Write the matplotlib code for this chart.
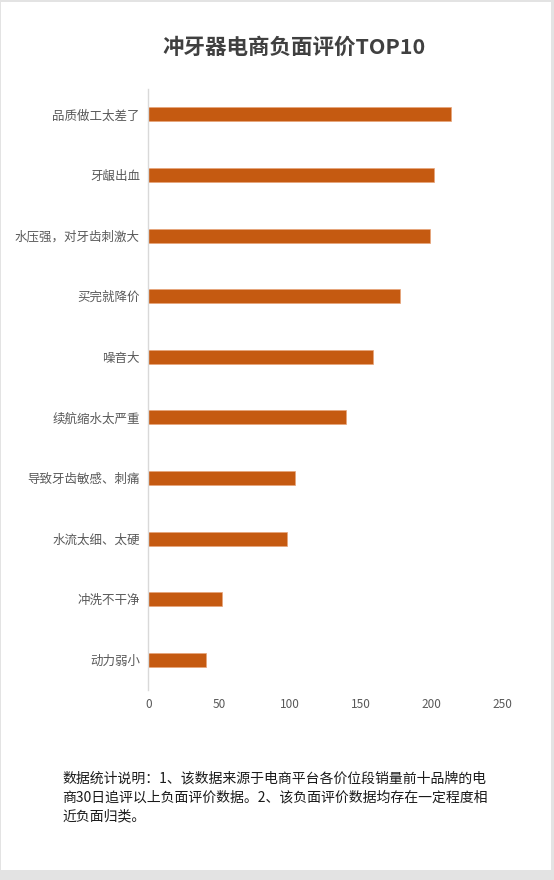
import matplotlib
matplotlib.use('Agg')
from matplotlib import pyplot as plt
from matplotlib.patches import Rectangle

plt.rcParams['font.family'] = ['Noto Sans CJK SC', 'DejaVu Sans']

categories = ['品质做工太差了', '牙龈出血', '水压强，对牙齿刺激大', '买完就降价', '噪音大',
              '续航缩水太严重', '导致牙齿敏感、刺痛', '水流太细、太硬', '冲洗不干净', '动力弱小']
counts = [214, 202, 199, 178, 159, 140, 104, 98, 52, 41]
x_ticks = [0, 50, 100, 150, 200, 250]

title = '冲牙器电商负面评价TOP10'
note_lines = ['数据统计说明：1、该数据来源于电商平台各价位段销量前十品牌的电',
              '商30日追评以上负面评价数据。2、该负面评价数据均存在一定程度相',
              '近负面归类。']

W, H = 554, 880
fig = plt.figure(figsize=(W / 100, H / 100), dpi=100, facecolor='#e3e3e3')
# white card with thin grey frame
card = Rectangle((1 / W, 10 / H), 550 / W, 868 / H, transform=fig.transFigure,
                 facecolor='white', edgecolor='none', zorder=-5)
fig.patches.append(card)

ax = fig.add_axes([148.3 / W, 1 - 690 / H, 353.7 / W, 601 / H])
ax.set_facecolor('none')
ax.set_zorder(5)

ypos = list(range(len(categories)))
ax.barh(ypos, counts, height=0.23, color='#C55A11', edgecolor='#e8a47a', linewidth=0.5)

ax.set_yticks(ypos)
ax.set_yticklabels(categories, fontsize=9, color='#595959')
ax.set_ylim(9.5, -0.42)
ax.set_xlim(0, 250)
ax.set_xticks(x_ticks)
ax.set_xticklabels([str(t) for t in x_ticks], fontsize=8.5, color='#595959')
ax.tick_params(length=0)
ax.tick_params(axis='x', pad=6)
ax.tick_params(axis='y', pad=6)

for s in ['top', 'right', 'bottom']:
    ax.spines[s].set_visible(False)
ax.spines['left'].set_color('#d9d9d9')
ax.spines['left'].set_linewidth(1)

fig.text(294 / W, 1 - 47 / H, title, ha='center', va='center', fontsize=15.5,
         fontweight='bold', color='#404040', zorder=6)

for i, line in enumerate(note_lines):
    fig.text(62 / W, 1 - (778 + i * 19) / H, line, ha='left', va='center',
             fontsize=10, color='#1a1a1a', zorder=6)

plt.savefig('out.png', dpi=100, facecolor=fig.get_facecolor())
